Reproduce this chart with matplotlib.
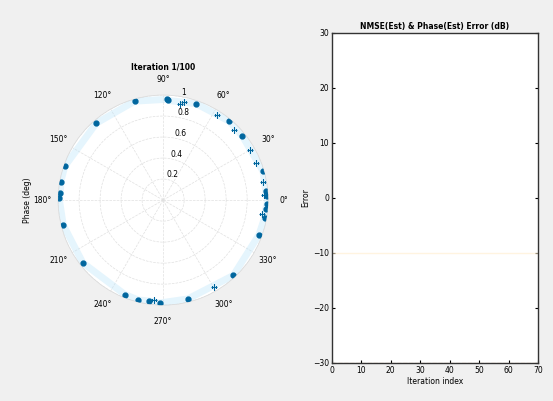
import numpy as np
import matplotlib.pyplot as plt

# phase estimates (deg) and magnitudes, first iteration
est_deg = [87, 88, 106, 131, 161, 170, 176, 179, 194, 218, 248,
           256, 262, 268, 284, 313, 340, 350, 355, 358, 2, 5, 16, 39, 50, 71]
est_mag = [0.95, 0.96, 0.98, 0.97, 0.99, 0.99, 0.98, 0.99, 0.98, 0.97, 0.97,
           0.98, 0.97, 0.98, 0.97, 0.98, 0.97, 0.98, 0.98, 0.99, 0.99, 0.98, 0.99, 0.97, 0.98, 0.97]
ref_deg = [80, 78, 58, 45, 30, 22, 10, 3, 352, 300, 265]
ref_mag = [0.93, 0.95, 0.96, 0.95, 0.96, 0.95, 0.97, 0.96, 0.95, 0.96, 0.95]

# error curves (dB) vs iteration
err_x = [0, 10, 20, 30, 40, 50, 60, 70]
err_est = [-10, -10, -10, -10, -10, -10, -10, -10]
err_floor = [-30, -30, -30, -30, -30, -30, -30, -30]
x_ticks = [0, 10, 20, 30, 40, 50, 60, 70]
y_ticks = [-30, -20, -10, 0, 10, 20, 30]

blue = (0.0, 0.40, 0.62)
plt.rcParams['font.family'] = 'DejaVu Sans'
plt.rcParams['font.size'] = 5.5

fig = plt.figure(figsize=(5.53, 4.01), dpi=100)
fig.patch.set_facecolor((0.94, 0.94, 0.94))

# ---- polar view ----
ax1 = fig.add_axes([0.105, 0.239, 0.38, 0.524], projection='polar')
th = np.deg2rad(est_deg)
order = np.argsort(th)
ax1.plot(th[order], np.array(est_mag)[order], color=(0.75, 0.9, 0.98),
         lw=5, alpha=0.4, zorder=2)
ax1.plot(th, est_mag, 'o', color=blue, ms=3.5, zorder=4)
ax1.plot(np.deg2rad(ref_deg), ref_mag, '+', color=blue, ms=4, mew=0.8, zorder=4)
ax1.set_ylim(0, 1)
ax1.set_yticks([0.2, 0.4, 0.6, 0.8, 1])
ax1.set_yticklabels(['0.2', '0.4', '0.6', '0.8', '1'])
ax1.set_rlabel_position(80)
ax1.set_thetagrids(np.arange(0, 360, 30))
ax1.grid(color=(0.88, 0.88, 0.88), lw=0.5, ls='--')
ax1.spines['polar'].set_color((0.85, 0.85, 0.85))
ax1.spines['polar'].set_linewidth(0.5)
ax1.tick_params(pad=1)
ax1.set_title('Iteration 1/100', fontsize=5.5, fontweight='bold', pad=4)
fig.text(0.05, 0.5, 'Phase (deg)', rotation=90, ha='center', va='center')

# ---- error vs iteration ----
ax2 = fig.add_axes([0.600, 0.095, 0.373, 0.823])
ax2.plot(err_x, err_est, color=(1.0, 0.93, 0.8), lw=1, alpha=0.6)
ax2.plot(err_x, err_floor, '--', color=(0.93, 0.55, 0.2), lw=0.8)
ax2.set_xlim(0, 70)
ax2.set_ylim(-30, 30)
ax2.set_xticks(x_ticks)
ax2.set_yticks(y_ticks)
ax2.tick_params(direction='in', length=2, right=True, top=False, pad=2)
for s in ax2.spines.values():
    s.set_linewidth(1.0)
    s.set_color((0.2, 0.2, 0.2))
ax2.set_title('NMSE(Est) & Phase(Est) Error (dB)', fontsize=5.5,
              fontweight='bold', pad=3)
ax2.set_xlabel('Iteration index', labelpad=2)
ax2.set_ylabel('Error', labelpad=2)

fig.savefig('out.png', dpi=100, facecolor=fig.get_facecolor())
